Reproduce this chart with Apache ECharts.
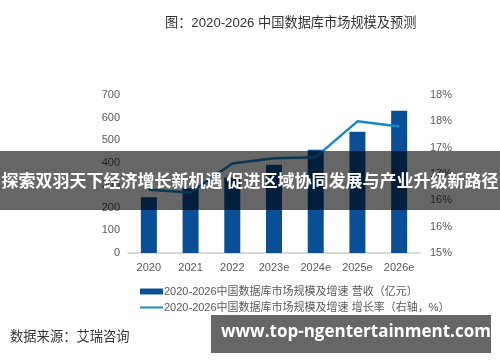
<!DOCTYPE html>
<html>
<head>
<meta charset="utf-8">
<script src="https://cdn.jsdelivr.net/npm/echarts@6/dist/echarts.min.js"></script>
<style>
html,body{margin:0;padding:0;background:#fff;}
#chart{width:500px;height:362px;}
</style>
</head>
<body>
<div id="chart"></div>
<script>
// ---- data ----
var categories = ['2020', '2021', '2022', '2023e', '2024e', '2025e', '2026e'];
var revenue = [247, 287, 335, 391, 457, 537, 630];            // 亿元
var growthRate = [16.2, 16.15, 16.7, 16.8, 16.82, 17.5, 17.4]; // %
var leftTicks = { min: 0, max: 700, interval: 100 };
var rightTicks = { min: 15, max: 18, interval: 0.5 };
var titleText = '图：2020-2026 中国数据库市场规模及预测';
var barName = '2020-2026中国数据库市场规模及增速 营收（亿元）';
var lineName = '2020-2026中国数据库市场规模及增速 增长率（右轴，%）';
var sourceText = '数据来源：艾瑞咨询';
var bannerText = '探索双羽天下经济增长新机遇 促进区域协同发展与产业升级新路径';
var watermarkText = 'www.top-ngentertainment.com';

var FONT = 'Arial, "Liberation Sans", "Noto Sans CJK SC", sans-serif';
var chart = echarts.init(document.getElementById('chart'), null, {renderer: 'canvas'});
chart.setOption({
  animation: false,
  backgroundColor: '#ffffff',
  textStyle: { fontFamily: FONT },
  title: {
    text: titleText,
    left: 160, top: 12,
    textStyle: { fontSize: 13.2, fontWeight: 'normal', color: '#333333', fontFamily: FONT }
  },
  grid: { left: 128, right: 80, top: 95, bottom: 109 },
  legend: {
    orient: 'vertical',
    left: 134, top: 280,
    itemWidth: 23, itemHeight: 6,
    itemGap: 3,
    textStyle: { fontSize: 11, color: '#595959', lineHeight: 13, padding: [0,0,0,-4] },
    data: [
      { name: barName, icon: 'rect' },
      { name: lineName, itemStyle: { opacity: 0 } }
    ]
  },
  xAxis: {
    type: 'category',
    data: categories,
    axisLine: { lineStyle: { color: '#d9d9d9', width: 2 } },
    axisTick: { show: false },
    axisLabel: { color: '#595959', fontSize: 11, margin: 9 }
  },
  yAxis: [
    {
      type: 'value', min: leftTicks.min, max: leftTicks.max, interval: leftTicks.interval,
      splitLine: { show: false }, axisLine: { show: false }, axisTick: { show: false },
      axisLabel: { color: '#595959', fontSize: 11, margin: 8 }
    },
    {
      type: 'value', min: rightTicks.min, max: rightTicks.max, interval: rightTicks.interval,
      splitLine: { show: false }, axisLine: { show: false }, axisTick: { show: false },
      axisLabel: { color: '#595959', fontSize: 11, margin: 10,
        formatter: function (v) { return Math.round(v) + '%'; } }
    }
  ],
  series: [
    {
      name: barName, type: 'bar', data: revenue, barWidth: 16,
      itemStyle: { color: '#0a4f96' }
    },
    {
      name: lineName, type: 'line', yAxisIndex: 1, data: growthRate,
      symbol: 'none', showSymbol: false, smooth: false,
      lineStyle: { color: '#1787c6', width: 2.5 },
      itemStyle: { color: '#1787c6' }
    }
  ],
  graphic: [
    {
      type: 'rect', left: 0, top: 151, z: 100,
      shape: { width: 500, height: 59 },
      style: { fill: 'rgba(0,0,0,0.6)' }
    },
    {
      type: 'text', left: 'center', top: 172, z: 101,
      style: { text: bannerText, fill: '#ffffff', fontSize: 17, fontWeight: 'bold',
        fontFamily: '"Noto Sans CJK SC", sans-serif' }
    },
    {
      type: 'text', left: 10, top: 329, z: 50,
      style: { text: sourceText, fill: '#333333', fontSize: 13.3,
        fontFamily: '"Noto Sans CJK SC", sans-serif' }
    },
    {
      type: 'rect', left: 211, top: 315, z: 100,
      shape: { width: 280, height: 38 },
      style: { fill: '#666666' }
    },
    {
      type: 'text', left: 221, top: 324, z: 101,
      style: { text: watermarkText, fill: '#ffffff', fontSize: 17, fontWeight: 'bold',
        fontFamily: '"Open Sans", "DejaVu Sans", sans-serif' }
    }
  ]
});
</script>
</body>
</html>
